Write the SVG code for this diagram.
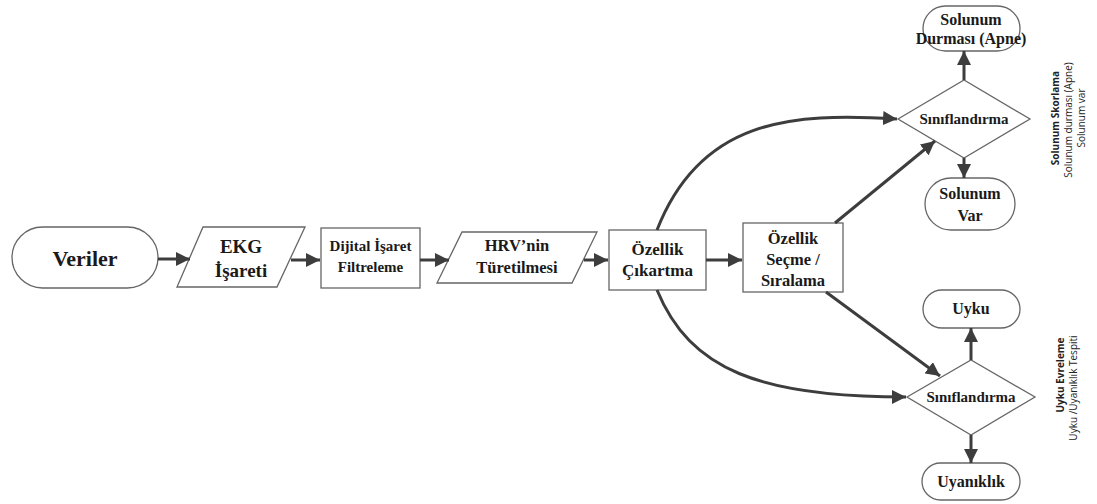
<svg xmlns="http://www.w3.org/2000/svg" width="1097" height="504" viewBox="0 0 1097 504">
<defs>
<marker id="ah" markerUnits="userSpaceOnUse" markerWidth="16" markerHeight="14" refX="14" refY="7" orient="auto">
<path d="M0,0 L14,7 L0,14 Z" fill="#3d3d3d"/>
</marker>
<style>
.shape{fill:#fff;stroke:#666;stroke-width:1.3}
.t{font-family:"Liberation Serif","Times New Roman",serif;font-weight:bold;fill:#1a1a1a;text-anchor:middle}
.side{font-family:"Open Sans","Noto Sans",sans-serif;font-size:10px;fill:#222;text-anchor:middle}
.conn{fill:none;stroke:#3d3d3d;stroke-width:3;marker-end:url(#ah)}
</style>
</defs>
<rect width="1097" height="504" fill="#fff"/>

<g id="veriler">
<rect class="shape" x="12" y="227" width="146" height="61" rx="30.5"/>
<text class="t" x="85" y="266" font-size="22">Veriler</text>
</g>
<g id="ekg">
<polygon class="shape" points="203,227 305,227 277,287 177,287"/>
<text class="t" x="241" y="253" font-size="19">EKG</text>
<text class="t" x="241" y="277" font-size="19">İşareti</text>
</g>
<g id="dijital">
<rect class="shape" x="321" y="228" width="99" height="60"/>
<text class="t" x="370.5" y="251" font-size="15">Dijital İşaret</text>
<text class="t" x="370.5" y="272" font-size="15">Filtreleme</text>
</g>
<g id="hrv">
<polygon class="shape" points="462,232 597,232 572,283 437,283"/>
<text class="t" x="517" y="251" font-size="16.5">HRV’nin</text>
<text class="t" x="517" y="273" font-size="16.5">Türetilmesi</text>
</g>
<g id="ozellik-cikartma">
<rect class="shape" x="609" y="230" width="97" height="60"/>
<text class="t" x="657.5" y="255" font-size="17">Özellik</text>
<text class="t" x="657.5" y="276" font-size="17">Çıkartma</text>
</g>
<g id="ozellik-secme">
<rect class="shape" x="743" y="223" width="100" height="69"/>
<text class="t" x="793" y="244" font-size="16.5">Özellik</text>
<text class="t" x="793" y="265" font-size="16.5">Seçme /</text>
<text class="t" x="793" y="286" font-size="16.5">Sıralama</text>
</g>
<g id="siniflandirma-1">
<polygon class="shape" points="898,119 964,80 1030,119 964,158"/>
<text class="t" x="964" y="124" font-size="15">Sınıflandırma</text>
</g>
<g id="solunum-durmasi">
<rect class="shape" x="923" y="6" width="97" height="45" rx="22.5"/>
<text class="t" x="971" y="25" font-size="16">Solunum</text>
<text class="t" x="971" y="44" font-size="16">Durması (Apne)</text>
</g>
<g id="solunum-var">
<rect class="shape" x="925" y="178" width="90" height="52" rx="26"/>
<text class="t" x="970" y="199" font-size="16">Solunum</text>
<text class="t" x="970" y="221" font-size="16">Var</text>
</g>
<g id="siniflandirma-2">
<polygon class="shape" points="907,397 971,360 1035,397 971,435"/>
<text class="t" x="971" y="402" font-size="15">Sınıflandırma</text>
</g>
<g id="uyku">
<rect class="shape" x="923" y="290" width="97" height="38" rx="19"/>
<text class="t" x="971" y="314" font-size="16">Uyku</text>
</g>
<g id="uyaniklik">
<rect class="shape" x="922" y="463" width="98" height="37" rx="18.5"/>
<text class="t" x="971" y="487" font-size="16">Uyanıklık</text>
</g>

<g id="side-labels">
<text class="side" font-weight="bold" transform="translate(1059,118) rotate(-90)">Solunum Skorlama</text>
<text class="side" transform="translate(1072,120) rotate(-90)">Solunum durması (Apne)</text>
<text class="side" transform="translate(1085,118) rotate(-90)">Solunum var</text>
<text class="side" font-weight="bold" transform="translate(1064,375) rotate(-90)">Uyku Evreleme</text>
<text class="side" transform="translate(1077,388) rotate(-90)">Uyku /Uyanıklık Tespiti</text>
</g>

<g id="connectors">
<path class="conn" d="M158,259 L190,259"/>
<path class="conn" d="M291,260 L320,260"/>
<path class="conn" d="M420,260 L449,260"/>
<path class="conn" d="M584,260 L608,260"/>
<path class="conn" d="M706,260 L742,260"/>
<path class="conn" d="M657,230 C700,120 790,112 897,119"/>
<path class="conn" d="M657,290 C690,370 760,397 906,397"/>
<path class="conn" d="M835,223 L935,141"/>
<path class="conn" d="M826,292 L940,376"/>
<path class="conn" d="M964,80 L964,51"/>
<path class="conn" d="M964,158 L964,178"/>
<path class="conn" d="M971,360 L971,328"/>
<path class="conn" d="M971,435 L971,463"/>
</g>
</svg>
